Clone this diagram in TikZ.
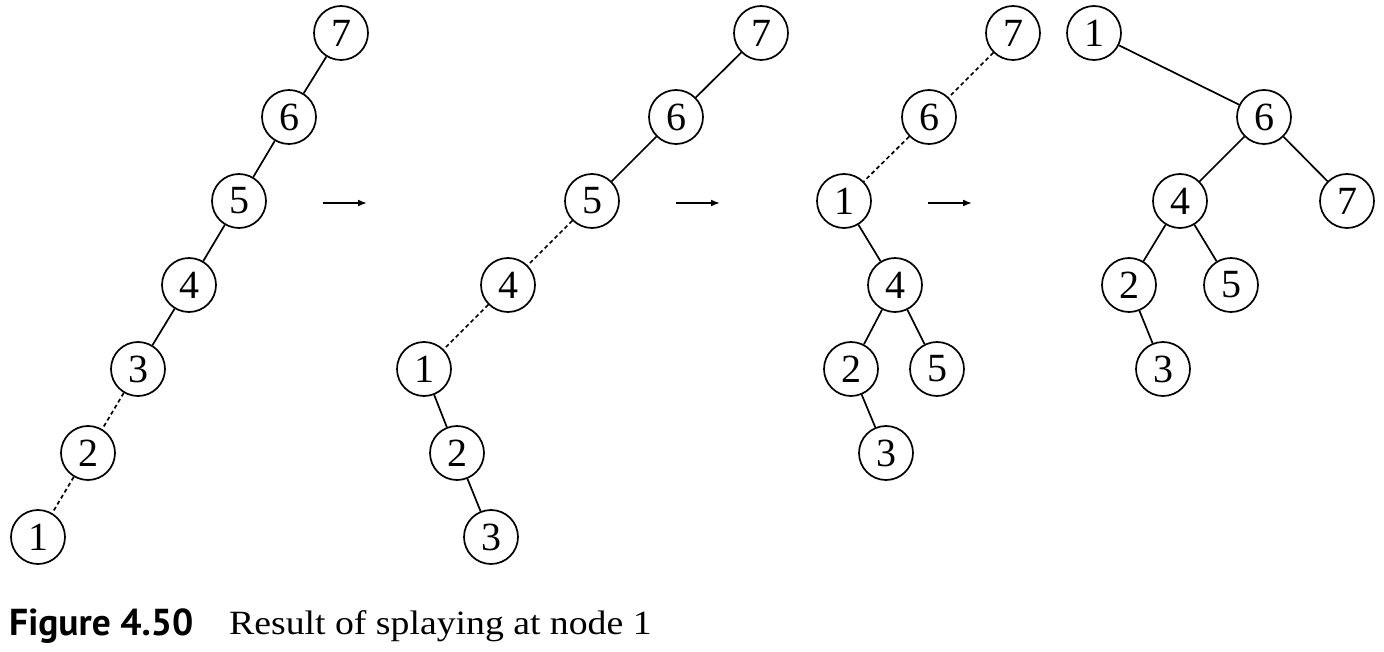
\documentclass[tikz,border=0pt]{standalone}
\usepackage{fontspec}
\usepackage{graphicx}
\usetikzlibrary{arrows.meta}
\setmainfont{Liberation Serif}
\newfontfamily\capsans{PT Sans}
\begin{document}
\begin{tikzpicture}[x=1pt,y=-1pt,
  nd/.style={circle,draw,line width=1.7pt,minimum size=54pt,inner sep=0pt,font=\fontsize{40}{40}\selectfont},
  ed/.style={line width=1.7pt},
  de/.style={line width=1.7pt,dash pattern=on 4pt off 3pt},
  ar/.style={line width=1.7pt,-{Latex[length=9pt,width=7pt]}}]
\useasboundingbox (0,0) rectangle (1384,652);
% tree 1
\node[nd] (a7) at (341,33) {7};
\node[nd] (a6) at (289,117) {6};
\node[nd] (a5) at (239,201) {5};
\node[nd] (a4) at (189,285) {4};
\node[nd] (a3) at (138,369) {3};
\node[nd] (a2) at (88,453) {2};
\node[nd] (a1) at (38,537) {1};
\draw[ed] (a7)--(a6) (a6)--(a5) (a5)--(a4) (a4)--(a3);
\draw[de] (a3)--(a2) (a2)--(a1);
% tree 2
\node[nd] (b7) at (761,33) {7};
\node[nd] (b6) at (676,117) {6};
\node[nd] (b5) at (592,201) {5};
\node[nd] (b4) at (508,285) {4};
\node[nd] (b1) at (424,369) {1};
\node[nd] (b2) at (457,453) {2};
\node[nd] (b3) at (491,537) {3};
\draw[ed] (b7)--(b6) (b6)--(b5) (b1)--(b2) (b2)--(b3);
\draw[de] (b5)--(b4) (b4)--(b1);
% tree 3
\node[nd] (c7) at (1013,33) {7};
\node[nd] (c6) at (929,117) {6};
\node[nd] (c1) at (844,201) {1};
\node[nd] (c4) at (895,285) {4};
\node[nd] (c2) at (851,369) {2};
\node[nd] (c5) at (937,369) {5};
\node[nd] (c3) at (886,453) {3};
\draw[de] (c7)--(c6) (c6)--(c1);
\draw[ed] (c1)--(c4) (c4)--(c2) (c4)--(c5) (c2)--(c3);
% tree 4
\node[nd] (d1) at (1094,33) {1};
\node[nd] (d6) at (1264,117) {6};
\node[nd] (d4) at (1180,201) {4};
\node[nd] (d7) at (1347,201) {7};
\node[nd] (d2) at (1129,285) {2};
\node[nd] (d5) at (1231,285) {5};
\node[nd] (d3) at (1163,369) {3};
\draw[ed] (d1)--(d6) (d6)--(d4) (d6)--(d7) (d4)--(d2) (d4)--(d5) (d2)--(d3);
% arrows
\coordinate (p1) at (323,203); \coordinate (q1) at (367,203);
\coordinate (p2) at (676,203); \coordinate (q2) at (720,203);
\coordinate (p3) at (928,203); \coordinate (q3) at (972,203);
\draw[ar] (p1)--(q1);
\draw[ar] (p2)--(q2);
\draw[ar] (p3)--(q3);
% caption
\node[anchor=base west,inner sep=0pt,font=\capsans\bfseries\fontsize{37.5}{37.5}\selectfont] (fig) at (9,635) {Figure 4.50};
\node[anchor=base west,inner sep=0pt,font=\fontsize{34}{34}\selectfont] (cap) at (229,634) {\scalebox{1.11}[1]{Result of splaying at node 1}};
\end{tikzpicture}
\end{document}
